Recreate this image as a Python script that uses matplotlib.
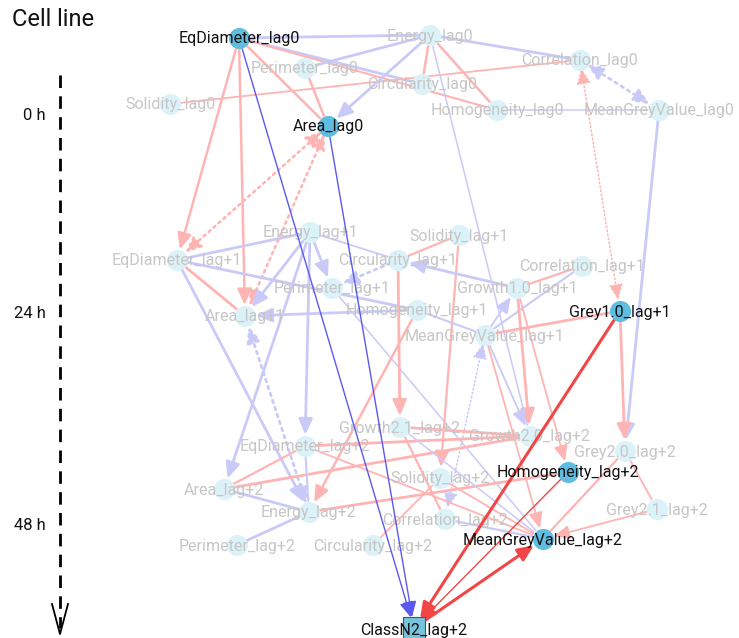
import matplotlib.pyplot as plt
from matplotlib.patches import FancyArrowPatch

plt.rcParams['font.family'] = ['Roboto', 'DejaVu Sans']

# nodes of the time-lagged network and which ones are linked to the class node
nodes = [
    'EqDiameter_lag0', 'Energy_lag0', 'Perimeter_lag0', 'Circularity_lag0', 'Correlation_lag0',
    'Solidity_lag0', 'Homogeneity_lag0', 'MeanGreyValue_lag0', 'Area_lag0',
    'Energy_lag+1', 'Solidity_lag+1', 'EqDiameter_lag+1', 'Circularity_lag+1', 'Correlation_lag+1',
    'Perimeter_lag+1', 'Growth1.0_lag+1', 'Area_lag+1', 'Homogeneity_lag+1', 'Grey1.0_lag+1',
    'MeanGreyValue_lag+1',
    'Growth2.1_lag+2', 'EqDiameter_lag+2', 'Growth2.0_lag+2', 'Grey2.0_lag+2', 'Homogeneity_lag+2',
    'Solidity_lag+2', 'Area_lag+2', 'Grey2.1_lag+2', 'Energy_lag+2', 'Correlation_lag+2',
    'Perimeter_lag+2', 'Circularity_lag+2', 'MeanGreyValue_lag+2', 'ClassN2_lag+2',
]
highlighted = ['EqDiameter_lag0', 'Area_lag0', 'Grey1.0_lag+1', 'Homogeneity_lag+2',
               'MeanGreyValue_lag+2', 'ClassN2_lag+2']
target = 'ClassN2_lag+2'

# edges: source, destination, sign (+ red / - blue), style, weight, arrow (0 none, 1 forward, 2 both)
edges = [
    ('EqDiameter_lag0', 'ClassN2_lag+2', '-', 'solid', 1.0, 1),
    ('Area_lag0', 'ClassN2_lag+2', '-', 'solid', 1.0, 1),
    ('Grey1.0_lag+1', 'ClassN2_lag+2', '+', 'solid', 2.2, 1),
    ('Homogeneity_lag+2', 'ClassN2_lag+2', '+', 'solid', 1.0, 1),
    ('ClassN2_lag+2', 'MeanGreyValue_lag+2', '+', 'solid', 2.2, 1),

    ('EqDiameter_lag0', 'Energy_lag0', '-', 'solid', 2.0, 0),
    ('EqDiameter_lag0', 'Circularity_lag0', '-', 'solid', 2.0, 0),
    ('EqDiameter_lag0', 'Area_lag0', '+', 'solid', 1.8, 0),
    ('EqDiameter_lag0', 'Homogeneity_lag0', '+', 'solid', 1.5, 0),
    ('EqDiameter_lag0', 'EqDiameter_lag+1', '+', 'solid', 1.8, 1),
    ('EqDiameter_lag0', 'Area_lag+1', '+', 'solid', 1.8, 1),
    ('Solidity_lag0', 'Correlation_lag0', '+', 'solid', 1.3, 0),
    ('Perimeter_lag0', 'Area_lag0', '+', 'solid', 1.8, 0),
    ('Energy_lag0', 'Perimeter_lag0', '-', 'solid', 2.0, 0),
    ('Energy_lag0', 'Area_lag0', '-', 'solid', 2.0, 1),
    ('Energy_lag0', 'Circularity_lag0', '+', 'solid', 1.8, 0),
    ('Energy_lag0', 'Homogeneity_lag0', '+', 'solid', 1.8, 0),
    ('Energy_lag0', 'Correlation_lag0', '-', 'solid', 2.0, 0),
    ('Energy_lag0', 'Growth2.0_lag+2', '-', 'solid', 1.1, 0),
    ('Homogeneity_lag0', 'MeanGreyValue_lag0', '-', 'solid', 1.1, 0),
    ('Correlation_lag0', 'MeanGreyValue_lag0', '-', 'dotted', 2.0, 2),
    ('Correlation_lag0', 'Grey1.0_lag+1', '+', 'dotted', 1.1, 2),
    ('MeanGreyValue_lag0', 'Grey2.0_lag+2', '-', 'solid', 2.0, 1),
    ('Area_lag0', 'EqDiameter_lag+1', '+', 'dotted', 1.8, 2),
    ('Area_lag0', 'Area_lag+1', '+', 'dotted', 1.8, 2),

    ('Energy_lag+1', 'EqDiameter_lag+1', '-', 'solid', 2.0, 0),
    ('Energy_lag+1', 'Perimeter_lag+1', '-', 'solid', 2.0, 1),
    ('Energy_lag+1', 'Area_lag+1', '-', 'solid', 2.0, 1),
    ('Energy_lag+1', 'Circularity_lag+1', '-', 'solid', 1.3, 0),
    ('Energy_lag+1', 'EqDiameter_lag+2', '-', 'solid', 2.0, 1),
    ('Energy_lag+1', 'Area_lag+2', '-', 'solid', 2.0, 1),
    ('EqDiameter_lag+1', 'Energy_lag+2', '-', 'solid', 2.0, 1),
    ('EqDiameter_lag+1', 'Homogeneity_lag+1', '-', 'solid', 2.0, 0),
    ('EqDiameter_lag+1', 'Area_lag+1', '+', 'solid', 2.0, 0),
    ('Circularity_lag+1', 'Perimeter_lag+1', '-', 'dotted', 2.0, 1),
    ('Homogeneity_lag+1', 'Area_lag+1', '-', 'solid', 2.0, 1),
    ('Perimeter_lag+1', 'MeanGreyValue_lag+2', '-', 'solid', 1.1, 0),
    ('Energy_lag+2', 'Area_lag+1', '-', 'dotted', 2.0, 2),
    ('Solidity_lag+1', 'Circularity_lag+1', '+', 'solid', 1.6, 0),
    ('Circularity_lag+1', 'Growth2.1_lag+2', '+', 'solid', 2.0, 1),
    ('Solidity_lag+1', 'Solidity_lag+2', '+', 'solid', 1.6, 1),
    ('Growth1.0_lag+1', 'Circularity_lag+1', '-', 'solid', 2.0, 1),
    ('MeanGreyValue_lag+1', 'Growth1.0_lag+1', '-', 'solid', 1.3, 1),
    ('Correlation_lag+1', 'MeanGreyValue_lag+1', '-', 'solid', 1.5, 0),
    ('MeanGreyValue_lag+1', 'Homogeneity_lag+1', '-', 'solid', 1.5, 0),
    ('Correlation_lag+1', 'Growth1.0_lag+1', '+', 'solid', 1.6, 0),
    ('MeanGreyValue_lag+1', 'Grey1.0_lag+1', '+', 'solid', 2.0, 0),
    ('Growth1.0_lag+1', 'Growth2.0_lag+2', '+', 'solid', 2.0, 1),
    ('Growth1.0_lag+1', 'Homogeneity_lag+2', '+', 'solid', 1.3, 1),
    ('Grey1.0_lag+1', 'Grey2.0_lag+2', '+', 'solid', 2.0, 1),
    ('MeanGreyValue_lag+1', 'Growth2.0_lag+2', '-', 'solid', 1.3, 1),
    ('Homogeneity_lag+1', 'Energy_lag+2', '+', 'solid', 1.8, 1),
    ('MeanGreyValue_lag+1', 'MeanGreyValue_lag+2', '+', 'solid', 1.3, 1),
    ('MeanGreyValue_lag+1', 'Correlation_lag+2', '-', 'dotted', 1.1, 2),

    ('Growth2.1_lag+2', 'Growth2.0_lag+2', '+', 'solid', 2.0, 0),
    ('EqDiameter_lag+2', 'Growth2.0_lag+2', '+', 'solid', 2.0, 0),
    ('Area_lag+2', 'Growth2.0_lag+2', '+', 'solid', 2.0, 0),
    ('Area_lag+2', 'EqDiameter_lag+2', '+', 'solid', 1.6, 0),
    ('Area_lag+2', 'Energy_lag+2', '-', 'solid', 2.0, 0),
    ('Perimeter_lag+2', 'Energy_lag+2', '-', 'solid', 2.0, 0),
    ('EqDiameter_lag+2', 'Energy_lag+2', '-', 'solid', 1.5, 0),
    ('Energy_lag+2', 'Homogeneity_lag+2', '+', 'solid', 2.0, 0),
    ('EqDiameter_lag+2', 'MeanGreyValue_lag+2', '+', 'solid', 1.3, 0),
    ('Growth2.1_lag+2', 'Correlation_lag+2', '+', 'solid', 1.6, 0),
    ('Growth2.1_lag+2', 'MeanGreyValue_lag+2', '-', 'solid', 1.1, 0),
    ('Grey2.0_lag+2', 'MeanGreyValue_lag+2', '+', 'solid', 1.6, 0),
    ('Grey2.0_lag+2', 'Grey2.1_lag+2', '+', 'solid', 1.3, 0),
    ('Grey2.1_lag+2', 'MeanGreyValue_lag+2', '+', 'solid', 1.3, 1),
    ('Correlation_lag+2', 'MeanGreyValue_lag+2', '-', 'solid', 1.6, 0),
    ('Circularity_lag+2', 'Solidity_lag+2', '+', 'solid', 1.3, 0),
    ('Solidity_lag+2', 'MeanGreyValue_lag+2', '+', 'solid', 1.3, 0),
]

time_labels = ['0 h', '24 h', '48 h']

# drawing layout, in pixels
layout = {
    'EqDiameter_lag0': (239, 38), 'Energy_lag0': (430, 35), 'Perimeter_lag0': (305, 68),
    'Circularity_lag0': (422, 84), 'Correlation_lag0': (580, 60), 'Solidity_lag0': (170, 104),
    'Homogeneity_lag0': (497, 110), 'MeanGreyValue_lag0': (659, 110), 'Area_lag0': (328, 126),
    'Energy_lag+1': (310, 232), 'Solidity_lag+1': (459, 235), 'EqDiameter_lag+1': (177, 260),
    'Circularity_lag+1': (398, 260), 'Correlation_lag+1': (582, 266), 'Perimeter_lag+1': (332, 288),
    'Growth1.0_lag+1': (517, 288), 'Area_lag+1': (245, 316), 'Homogeneity_lag+1': (417, 310),
    'Grey1.0_lag+1': (620, 311), 'MeanGreyValue_lag+1': (485, 335),
    'Growth2.1_lag+2': (400, 427), 'EqDiameter_lag+2': (305, 446), 'Growth2.0_lag+2': (530, 436),
    'Grey2.0_lag+2': (625, 451), 'Homogeneity_lag+2': (568, 472), 'Solidity_lag+2': (440, 478),
    'Area_lag+2': (224, 489), 'Grey2.1_lag+2': (657, 509), 'Energy_lag+2': (309, 512),
    'Correlation_lag+2': (445, 519), 'Perimeter_lag+2': (237, 545), 'Circularity_lag+2': (373, 545),
    'MeanGreyValue_lag+2': (543, 539), 'ClassN2_lag+2': (414, 628),
}
time_y = [115, 313, 526]

fig = plt.figure(figsize=(7.39, 6.38), dpi=100)
ax = fig.add_axes([0, 0, 1, 1])
ax.set_xlim(0, 739)
ax.set_ylim(638, 0)
ax.axis('off')

colors = {
    ('+', True): '#f24646', ('+', False): '#ffb4b4',
    ('-', True): '#5a5af0', ('-', False): '#cacaf8',
}
arrowstyles = {0: '-', 1: '-|>,head_length=0.95,head_width=0.42',
               2: '<|-|>,head_length=0.95,head_width=0.42'}

for src, dst, sign, style, w, arrow in edges:
    hi = target in (src, dst)
    color = colors[(sign, hi)]
    patch = FancyArrowPatch(layout[src], layout[dst], arrowstyle=arrowstyles[arrow],
                            mutation_scale=10, lw=w, color=color, linestyle=style,
                            shrinkA=6, shrinkB=8, zorder=3 if hi else 1)
    ax.add_patch(patch)

for name in nodes:
    x, y = layout[name]
    hi = name in highlighted
    if name == target:
        ax.scatter(x, y, s=240, marker='s', color='#78c4dc', edgecolor='#2f5f6f',
                   linewidth=0.8, zorder=4)
        ax.text(x, y + 3, name, ha='center', va='center', fontsize=11.5,
                color='#111111', zorder=5)
        continue
    ax.scatter(x, y, s=200, color='#5fbde0' if hi else '#dcf2f9', zorder=4 if hi else 2)
    ax.text(x, y + 1, name, ha='center', va='center', fontsize=11.5,
            color='#111111' if hi else '#c6c6c6', zorder=5 if hi else 2)

# time axis on the left
ax.plot([60, 60], [75, 628], color='black', lw=2, linestyle=(0, (4.5, 3)), zorder=5)
ax.plot([52, 60, 68], [604, 634, 604], color='black', lw=1.3, zorder=5)
for lab, ty in zip(time_labels, time_y):
    ax.text(46, ty, lab, ha='right', va='center', fontsize=12, color='#111111')
ax.text(12, 20, 'Cell line', ha='left', va='center', fontsize=17, color='#111111')

fig.savefig('out.png', dpi=100)
